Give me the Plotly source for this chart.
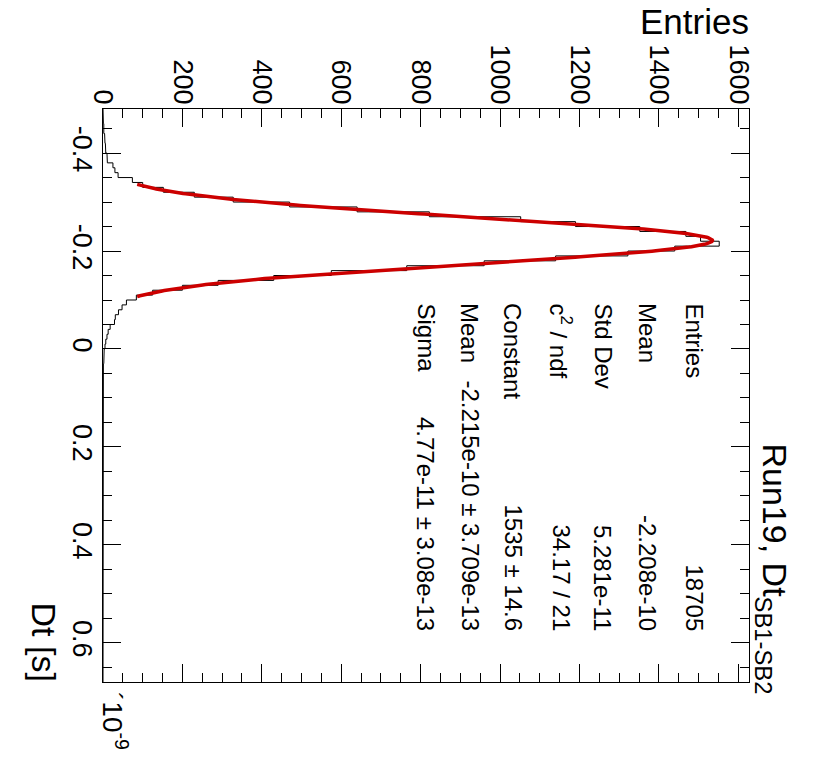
import numpy as np
import plotly.graph_objects as go

# Dt histogram: 117 bins of 0.01 ns from -0.49 ns to 0.68 ns
bin_lo = -0.49
bin_width = 0.01
counts = [
    # -0.49 .. -0.35
    0, 1, 1, 2, 2, 4, 5, 6, 7, 10, 11, 25, 30, 38, 74,
    # -0.34 .. -0.11 (fit range)
    100, 152, 230, 328, 470, 640, 822, 1052, 1190, 1352, 1468, 1505,
    1552, 1440, 1322, 1140, 960, 765, 575, 430, 290, 200, 125, 84,
    # -0.10 .. 0.07
    59, 48, 39, 31, 29, 18, 13, 10, 7, 5, 3, 2, 2, 1, 1, 1, 0, 1,
    # 0.08 .. 0.67
    0, 0, 0, 0, 0, 0, 0, 0, 0, 0, 0, 0, 0, 0, 0, 0, 0, 0, 0, 0,
    0, 0, 0, 0, 0, 0, 0, 0, 0, 0, 0, 0, 0, 0, 0, 0, 0, 0, 0, 0,
    0, 0, 0, 0, 0, 0, 0, 0, 0, 0, 0, 0, 0, 0, 0, 0, 0, 0, 0, 0,
]

# Gaussian fit result (Dt in units of 1e-9 s)
fit_constant = 1535.0
fit_mean = -0.2215
fit_sigma = 0.0477
fit_range = (-0.336, -0.107)

# statistics box
stat_labels = ["Entries", "Mean", "Std Dev", "c<sup>2</sup> / ndf",
               "Constant", "Mean", "Sigma"]
stat_values = ["18705", "-2.208e-10", "5.281e-11", "34.17 / 21",
               "1535 \u00b1 14.6", "-2.215e-10 \u00b1 3.709e-13",
               "4.77e-11 \u00b1 3.08e-13"]

entries_ticks = [0, 200, 400, 600, 800, 1000, 1200, 1400, 1600]
dt_ticks = [-0.4, -0.2, 0, 0.2, 0.4, 0.6]
dt_ticktext = ["-0.4", "-0.2", "0", "0.2", "0.4", "0.6"]

# histogram outline as a step path (Dt runs vertically)
edges = [bin_lo + i * bin_width for i in range(len(counts) + 1)]
step_x, step_y = [], []
for i, c in enumerate(counts):
    step_x += [c, c]
    step_y += [edges[i], edges[i + 1]]

fx = np.linspace(fit_range[0], fit_range[1], 300)
fy = fit_constant * np.exp(-0.5 * ((fx - fit_mean) / fit_sigma) ** 2)

fig = go.Figure()
fig.add_trace(go.Scatter(x=step_x, y=step_y, mode="lines",
                         line=dict(color="black", width=1), hoverinfo="skip"))
fig.add_trace(go.Scatter(x=fy, y=fx, mode="lines",
                         line=dict(color="#cc0000", width=3.5), hoverinfo="skip"))

W, H = 820, 757
L, R, T, B = 103, 749, 109, 682
FONT = "Liberation Sans, Arial, Helvetica, sans-serif"


def px(x):
    return (x - L) / (R - L)


def py(y):
    return 1 - (y - T) / (B - T)


axis_common = dict(
    showgrid=False, zeroline=False, showline=True, linecolor="black",
    linewidth=1, mirror="allticks", ticks="inside", ticklen=18,
    tickwidth=1, tickcolor="black", tickangle=90,
    tickfont=dict(family=FONT, size=27, color="black"),
)

fig.update_layout(
    width=W, height=H,
    margin=dict(l=L, r=W - R, t=T, b=H - B),
    paper_bgcolor="white", plot_bgcolor="white",
    showlegend=False,
    xaxis=dict(side="top", range=[0, 1627], tickvals=entries_ticks,
               ticklabelstandoff=-6,
               minor=dict(ticks="inside", ticklen=9, dtick=50, tick0=0,
                          tickcolor="black"),
               **axis_common),
    yaxis=dict(range=[0.68, -0.49], tickvals=dt_ticks, ticktext=dt_ticktext,
               ticklabelstandoff=-3,
               minor=dict(ticks="inside", ticklen=9, dtick=0.05, tick0=0,
                          tickcolor="black"),
               **axis_common),
)

ann = []
stat_x = [694, 648, 603, 561, 513, 470, 426]
for xc, lab, val in zip(stat_x, stat_labels, stat_values):
    ann.append(dict(x=px(xc), y=py(301), text=lab, textangle=90,
                    xanchor="center", yanchor="top"))
    ann.append(dict(x=px(xc), y=py(633), text=val, textangle=90,
                    xanchor="center", yanchor="bottom"))
for a in ann:
    a["font"] = dict(family=FONT, size=24, color="black")

ann.append(dict(x=px(751), y=py(0), text="Entries", xanchor="right",
                yanchor="top", font=dict(family=FONT, size=35, color="black")))
ann.append(dict(x=px(44), y=py(683), text="Dt [s]", textangle=90,
                xanchor="center", yanchor="bottom",
                font=dict(family=FONT, size=34, color="black")))
ann.append(dict(x=px(772), y=py(441), text="Run19, Dt<sub>SB1-SB2</sub>",
                textangle=90, xanchor="center", yanchor="top",
                font=dict(family=FONT, size=34, color="black")))
ann.append(dict(x=px(115), y=py(690), text="\u00b410<sup>-9</sup>",
                textangle=90, xanchor="center", yanchor="top",
                font=dict(family=FONT, size=28, color="black")))
for a in ann:
    a.update(xref="paper", yref="paper", showarrow=False)
fig.update_layout(annotations=ann)

fig.write_html("out.html")
